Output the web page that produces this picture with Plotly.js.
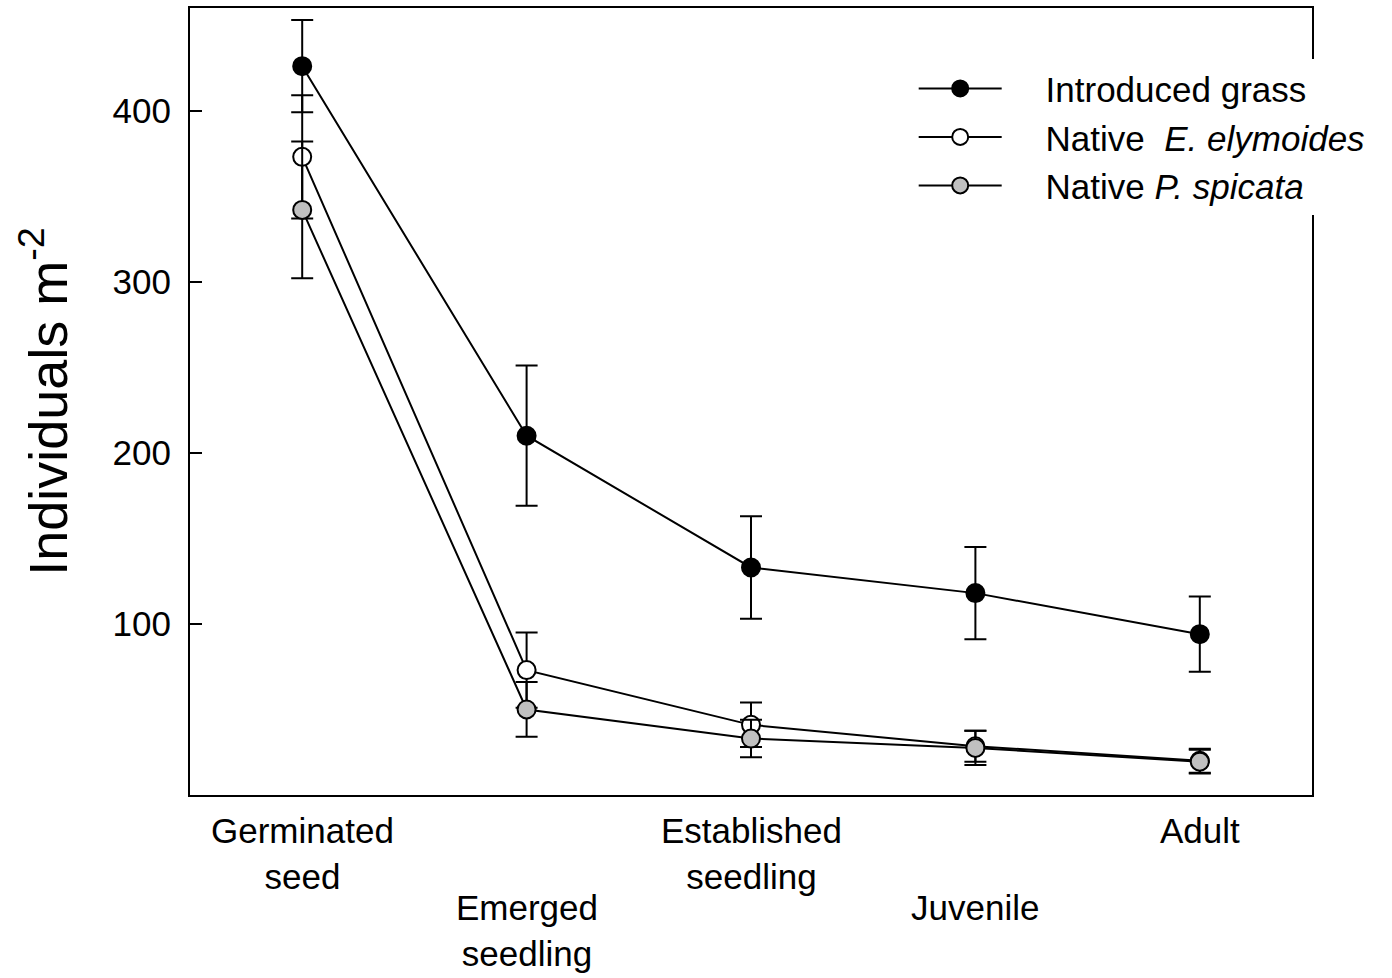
<!DOCTYPE html>
<html><head><meta charset="utf-8">
<script src="https://cdn.plot.ly/plotly-3.0.1.min.js"></script>
<style>body{margin:0;background:#fff}#chart{width:1392px;height:978px}</style>
</head><body><div id="chart"></div>
<script>
var stages = ["Germinated seed", "Emerged seedling", "Established seedling", "Juvenile", "Adult"];
var stageLabels = ["Germinated<br>seed", "Emerged<br>seedling", "Established<br>seedling", "Juvenile", "Adult"];
var labelRow = [0, 1, 0, 1, 0];

var introduced = [426, 210, 133, 118, 94];
var introducedErr = [27, 41, 30, 27, 22];
var elymoides = [373, 73, 41, 28.5, 20];
var elymoidesErr = [36, 22, 13, 9, 7];
var spicata = [342, 50, 33, 27.5, 19.5];
var spicataErr = [40, 16, 11, 10, 7];

var yTicks = [100, 200, 300, 400];
var seriesNames = ['Introduced grass', 'Native&nbsp; <i>E. elymoides</i>', 'Native <i>P. spicata</i>'];

var pad = '&nbsp;&nbsp;&nbsp;&nbsp;';

function series(name, y, err, fill) {
  return {
    type: 'scatter', mode: 'lines+markers', name: pad + name,
    x: stages, y: y,
    line: {color: '#000', width: 2},
    marker: {size: 18, color: fill, line: {color: '#000', width: 2}},
    error_y: {type: 'data', array: err, visible: true, color: '#000', thickness: 2, width: 11}
  };
}

var data = [
  series(seriesNames[0], introduced, introducedErr, '#000000'),
  series(seriesNames[1], elymoides, elymoidesErr, '#ffffff'),
  series(seriesNames[2], spicata, spicataErr, '#c0c0c0')
];

var annotations = stages.map(function (s, i) {
  return {
    x: s, xref: 'x', y: 0, yref: 'paper', yanchor: 'top', xanchor: 'center',
    text: stageLabels[i], showarrow: false, align: 'center',
    yshift: labelRow[i] ? -91 : -14,
    font: {family: 'Liberation Sans, Arial, sans-serif', size: 35, color: '#000'}
  };
});

var layout = {
  width: 1392, height: 978,
  margin: {l: 190, r: 80, t: 8, b: 183},
  paper_bgcolor: '#fff', plot_bgcolor: '#fff',
  font: {family: 'Liberation Sans, Arial, sans-serif', color: '#000'},
  showlegend: true,
  legend: {
    x: 0.645, xanchor: 'left', y: 0.935, yanchor: 'top',
    bgcolor: '#fff', borderwidth: 0, itemwidth: 83,
    font: {size: 35, color: '#000'}, tracegroupgap: 0
  },
  xaxis: {
    type: 'category', range: [-0.5, 4.5],
    showline: true, mirror: true, linecolor: '#000', linewidth: 2,
    showgrid: false, zeroline: false, ticks: '', showticklabels: false
  },
  yaxis: {
    range: [0, 460], tickvals: yTicks, ticktext: yTicks.map(String),
    showline: true, mirror: true, linecolor: '#000', linewidth: 2,
    showgrid: false, zeroline: false,
    ticks: 'inside', ticklen: 12, tickwidth: 2, tickcolor: '#000',
    tickfont: {size: 35}, ticklabelstandoff: 10,
    title: {text: 'Individuals m<sup>-2</sup>', font: {size: 54}, standoff: 28}
  },
  annotations: annotations
};

Plotly.newPlot('chart', data, layout, {displayModeBar: false, staticPlot: true});
</script></body></html>
